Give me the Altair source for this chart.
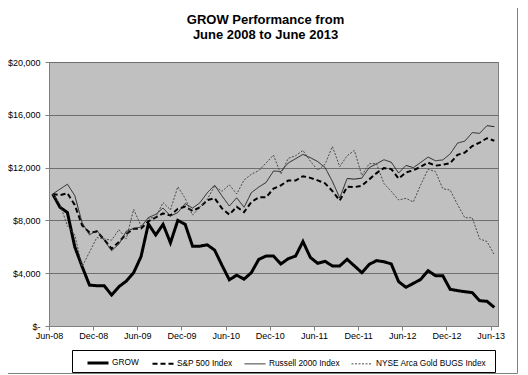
import altair as alt
import pandas as pd

F = "Liberation Sans"

series_names = ["GROW", "S&P 500 Index", "Russell 2000 Index", "NYSE Arca Gold BUGS Index"]
tick_labels = ["Jun-08", "Dec-08", "Jun-09", "Dec-09", "Jun-10", "Dec-10",
               "Jun-11", "Dec-11", "Jun-12", "Dec-12", "Jun-13"]
y_ticks = [0, 4000, 8000, 12000, 16000, 20000]

grow = [10000, 8990, 8600, 6000, 4500, 3100, 3050, 3050, 2350, 2980, 3400, 4040,
        5250, 7730, 6900, 7700, 6300, 8000, 7700, 6050, 6050, 6150, 5750, 4600,
        3500, 3850, 3550, 4050, 5050, 5300, 5300, 4700, 5100, 5300, 6400, 5200,
        4750, 4900, 4550, 4550, 5050, 4550, 4040, 4670, 4950, 4870, 4700, 3360,
        2930, 3230, 3530, 4190, 3810, 3810, 2780, 2680, 2600, 2530, 1920, 1870, 1410]
sp500 = [10000, 9916, 10059, 9163, 7624, 7077, 7152, 6549, 5852, 6364, 6973, 7363,
         7378, 7936, 8222, 8529, 8371, 8873, 9045, 8720, 8990, 9532, 9683, 8909,
         8443, 9034, 8626, 9396, 9753, 9754, 10406, 10653, 11018, 11022, 11349, 11221,
         11034, 10810, 10223, 9505, 10544, 10521, 10627, 11103, 11583, 11964, 11889, 11175,
         11635, 11797, 12063, 12374, 12146, 12216, 12328, 12966, 13142, 13635, 13898, 14223, 14033]
russell = [10000, 10370, 10743, 9884, 7828, 6905, 7250, 6494, 5702, 6209, 7172, 7387,
           7497, 8217, 8455, 8937, 8329, 8588, 9275, 8932, 9334, 10090, 10665, 9854,
           9086, 9713, 8994, 10109, 10524, 10881, 11741, 11706, 12349, 12670, 13000, 12753,
           12460, 12011, 10954, 9705, 11171, 11126, 11204, 12000, 12288, 12595, 12406, 11587,
           12165, 11995, 12391, 12800, 12518, 12581, 13034, 13855, 14008, 14652, 14593, 15177, 15101]
gold = [10000, 9200, 7600, 6900, 4500, 5600, 6700, 6600, 6500, 7300, 6600, 8840,
        7580, 8150, 8250, 9350, 8800, 10550, 9670, 8400, 9000, 9600, 10600, 10200,
        10700, 10000, 11060, 11500, 11770, 12350, 12950, 11500, 12700, 12900, 13300, 12500,
        11800, 12250, 13600, 12070, 12900, 13300, 11400, 12300, 12300, 10800, 10200, 9550,
        9670, 9400, 10700, 11870, 11700, 10400, 10300, 9200, 8200, 8200, 6600, 6400, 5400]

rows = []
for name, vals in zip(series_names, [grow, sp500, russell, gold]):
    for i, v in enumerate(vals):
        rows.append({"month": i, "value": v, "series": name})
df = pd.DataFrame(rows)

x_label_expr = "[" + ",".join("'%s'" % t for t in tick_labels) + "][round(datum.value / 6)]"
y_label_expr = "datum.value == 0 ? '$-\u00a0\u00a0' : '$' + format(datum.value, ',')"

leg = alt.Legend(title=None, orient="none", legendX=37, legendY=289, direction="horizontal",
                 columns=4, symbolType="stroke", symbolSize=441, labelOffset=2,
                 columnPadding=9, padding=0, labelFontSize=8.3, labelFont=F,
                 labelColor="black")

lines = alt.Chart(df).mark_line().encode(
    x=alt.X("month:Q",
            scale=alt.Scale(domain=[-0.5, 60.5], nice=False, zero=False),
            axis=alt.Axis(values=list(range(0, 61, 6)), labelExpr=x_label_expr, title=None,
                          grid=False, tickOffset=-3.68, tickSize=4, labelPadding=1,
                          labelFontSize=9, labelFont=F, labelColor="black",
                          domainColor="#808080", tickColor="#808080",
                          labelFlush=False, labelOverlap=False)),
    y=alt.Y("value:Q",
            scale=alt.Scale(domain=[0, 20000], nice=False),
            axis=alt.Axis(values=y_ticks, labelExpr=y_label_expr, title=None, grid=True,
                          gridColor="#6e6e6e", gridWidth=1, tickSize=4, labelPadding=5,
                          labelFontSize=9, labelFont=F, labelColor="black",
                          domainColor="#808080", tickColor="#808080",
                          labelFlush=False)),
    color=alt.Color("series:N", sort=series_names,
                    scale=alt.Scale(domain=series_names,
                                    range=["#000000", "#000000", "#222222", "#4a4a4a"]),
                    legend=leg),
    strokeDash=alt.StrokeDash("series:N", sort=series_names,
                              scale=alt.Scale(domain=series_names,
                                              range=[[1, 0], [5, 3], [1, 0], [2, 1.5]]),
                              legend=leg),
    strokeWidth=alt.StrokeWidth("series:N", sort=series_names,
                                scale=alt.Scale(type="ordinal", domain=series_names,
                                                range=[3, 2, 1, 1]),
                                legend=leg),
)

one = pd.DataFrame({"k": [0]})
legend_box = alt.Chart(one).mark_rect(fill="white", stroke="#000000", strokeWidth=1).encode(
    x=alt.value(23.5), x2=alt.value(446.5), y=alt.value(288.5), y2=alt.value(310.5)
)
frame = alt.Chart(one).mark_rect(fill="transparent", stroke="#808080", strokeWidth=1).encode(
    x=alt.value(-46), x2=alt.value(468.5), y=alt.value(-59), y2=alt.value(311.5)
)

chart = alt.layer(frame, legend_box, lines).properties(
    width=449, height=264,
    title=alt.Title(["GROW Performance from", "June 2008 to June 2013"], fontSize=13,
                    fontWeight="bold", font=F, anchor="middle", frame="group",
                    baseline="alphabetic", dx=-8, offset=-49,
                    lineHeight=14.5, color="black"),
    autosize=alt.AutoSizeParams(type="none"),
    padding={"left": 41, "top": 54, "right": 20, "bottom": 48},
).configure_view(fill="#C0C0C0", stroke="#808080", strokeWidth=1)

chart.save("out.html", embed_options={"renderer": "svg", "actions": False})
